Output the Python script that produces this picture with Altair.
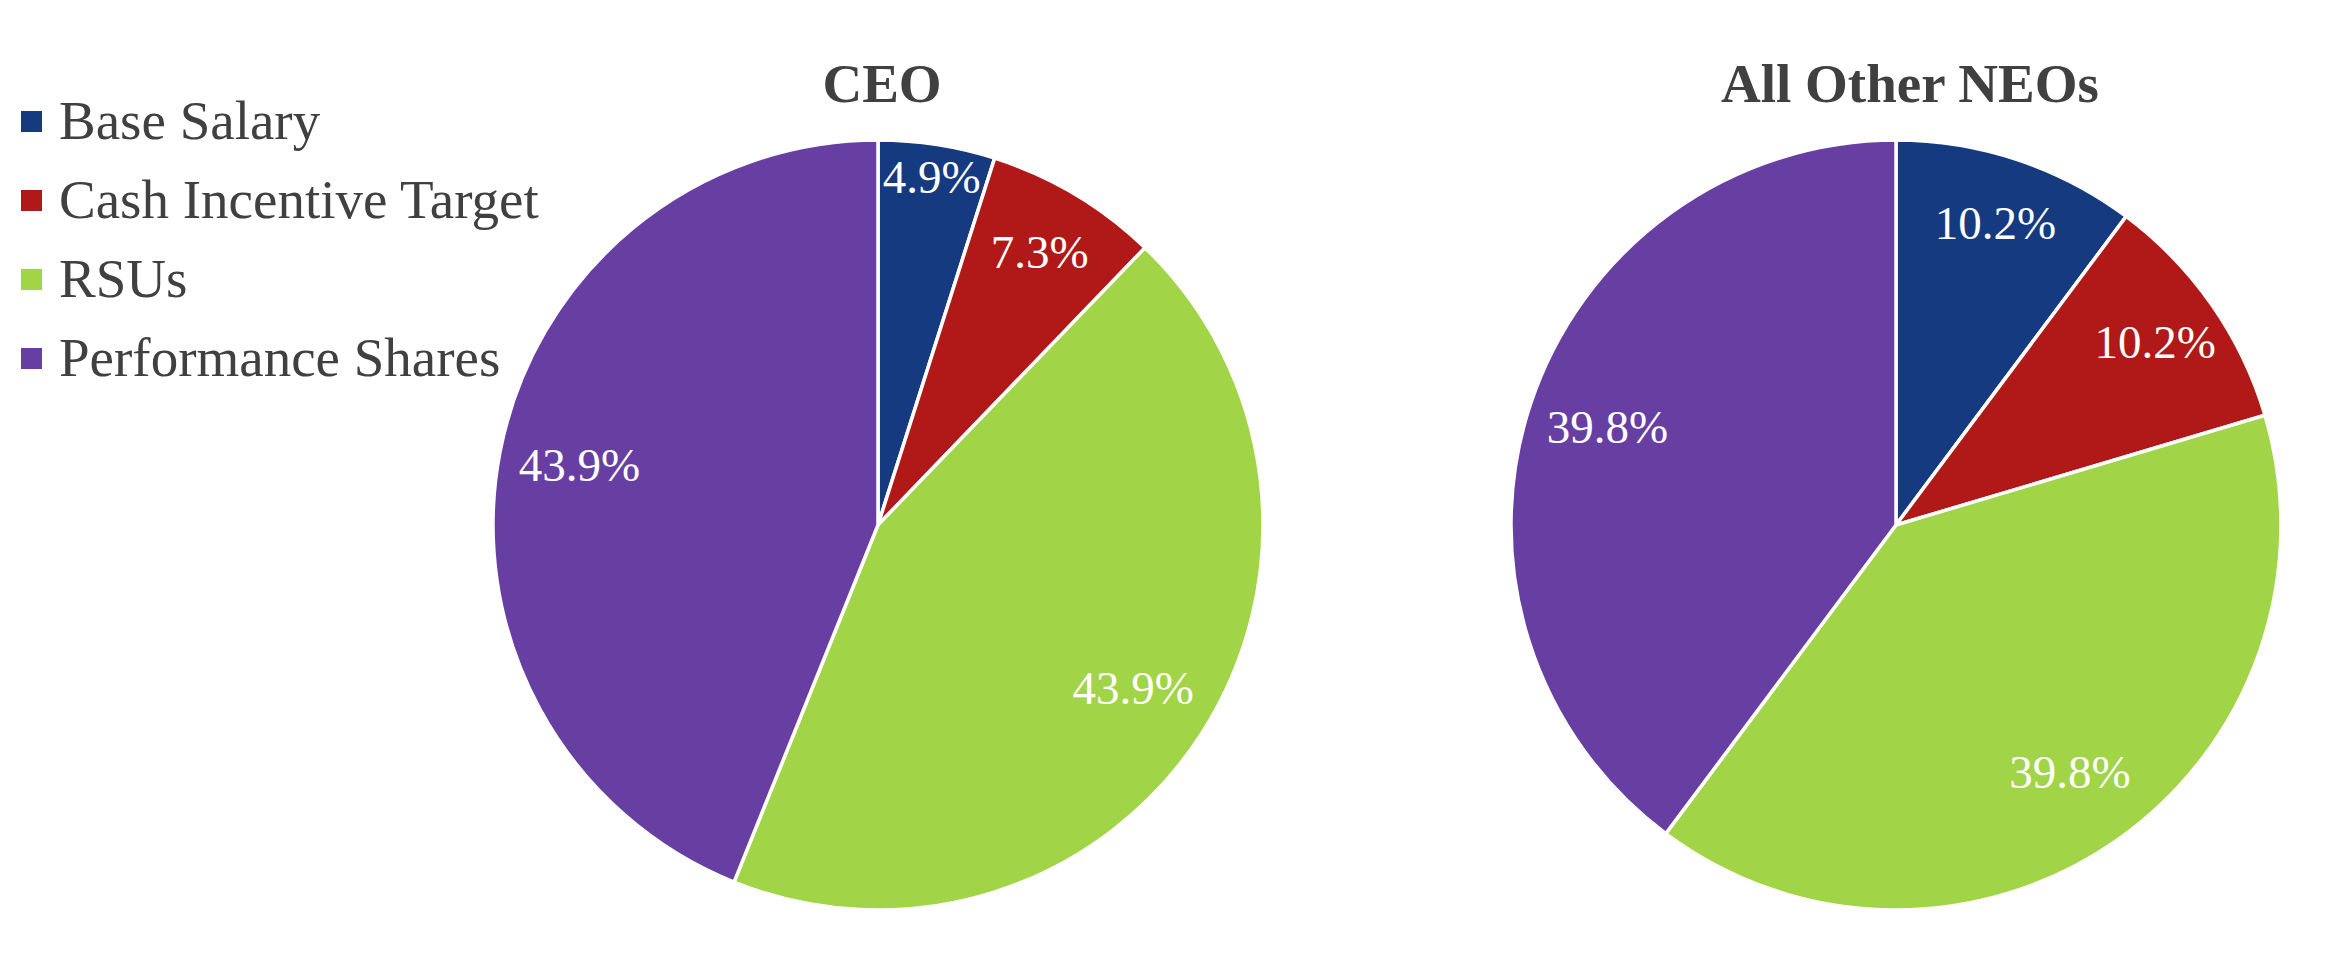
import altair as alt
import pandas as pd

categories = ["Base Salary", "Cash Incentive Target", "RSUs", "Performance Shares"]
ceo_values = [4.9, 7.3, 43.9, 43.9]
neo_values = [10.2, 10.2, 39.8, 39.8]
groups = ["CEO", "All Other NEOs"]
colors = ["#153A80", "#B01917", "#A1D446", "#673FA3"]

rows = []
for g, vals in zip(groups, [ceo_values, neo_values]):
    for i, (c, v) in enumerate(zip(categories, vals)):
        rows.append({"group": g, "category": c, "idx": i, "value": v})
df = pd.DataFrame(rows)

FONT = "Liberation Serif"
R = 385

legend = alt.Legend(
    orient="none", legendX=-4, legendY=86, title=None,
    symbolType="square", symbolSize=441, symbolStrokeWidth=0,
    labelFontSize=55, labelFont=FONT, labelColor="#404040",
    rowPadding=23, labelOffset=0, padding=0, labelLimit=1000,
)


def pie(group, cx, cy, title_dx):
    base = alt.Chart(df).transform_filter(alt.datum.group == group)
    arcs = base.mark_arc(outerRadius=R, stroke="white", strokeWidth=3.5).encode(
        theta=alt.Theta("value:Q", stack=True, scale=alt.Scale(domain=[0, 100])),
        order=alt.Order("idx:Q"),
        x=alt.value(cx), y=alt.value(cy),
        color=alt.Color("category:N", scale=alt.Scale(domain=categories, range=colors),
                        sort=categories, legend=legend),
    )
    labels = base.transform_window(
        cum="sum(value)", sort=[alt.SortField("idx")], frame=[None, 0]
    ).transform_calculate(
        mid="datum.cum - datum.value / 2",
        label="format(datum.value, '.1f') + '%'",
        lr="datum.value < 6 ? 350 : (datum.value < 12 ? 316 : 304)",
    ).mark_text(font=FONT, fontSize=47, color="white",
                align="center", baseline="middle").encode(
        theta=alt.Theta("mid:Q", stack=None, scale=alt.Scale(domain=[0, 100])),
        x=alt.value(cx), y=alt.value(cy),
        radius=alt.Radius("lr:Q", scale=None),
        text="label:N",
    )
    title = alt.Chart(pd.DataFrame({"t": [group]})).mark_text(
        font=FONT, fontSize=55, fontWeight="bold", color="#404040",
        align="center", baseline="alphabetic",
    ).encode(x=alt.value(cx + title_dx), y=alt.value(94), text="t:N")
    return [arcs, labels, title]


layers = pie(groups[0], 870, 517, 4) + pie(groups[1], 1888, 517, 14)

chart = alt.layer(*layers).properties(
    width=2309, height=947, autosize=alt.AutoSizeParams(type="none"), padding=0,
).configure_view(stroke=None)

chart.save("out.html", embed_options={"renderer": "svg", "actions": False})
